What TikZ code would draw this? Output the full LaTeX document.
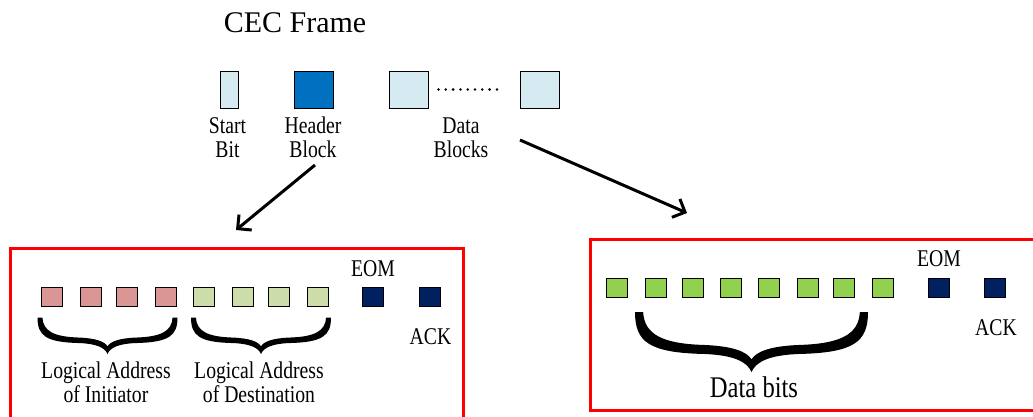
\documentclass[tikz,border=0pt]{standalone}
\usepackage{fontspec}
\setmainfont{Liberation Serif}
\newfontfamily\lblfont{Liberation Serif}[FakeStretch=0.82]
\usetikzlibrary{arrows.meta}

\definecolor{paleblue}{HTML}{D5EBF1}
\definecolor{headerblue}{HTML}{0070C0}
\definecolor{rosebit}{HTML}{D99694}
\definecolor{olivebit}{HTML}{CDDDAA}
\definecolor{databit}{HTML}{92D050}
\definecolor{navybit}{HTML}{002060}

\tikzset{
  bitbox/.style={draw=black, line width=0.8pt, inner sep=0pt, outer sep=0pt,
    minimum width=21pt, minimum height=19pt, anchor=north west},
  blockbox/.style={bitbox, minimum width=39pt, minimum height=37pt},
  lbl/.style={font=\lblfont\fontsize{24}{26}\selectfont, inner sep=0pt, anchor=base},
  framebox/.style={draw=red, line width=3pt},
  link/.style={line width=3pt, -{Straight Barb[length=10pt,width=20pt]}},
  curlybrace/.pic={
    \fill (0,0) .. controls (0,0.5) and (0.06,0.68) .. (0.3,0.7)
      .. controls (0.42,0.72) and (0.48,0.82) .. (0.5,1)
      .. controls (0.52,0.82) and (0.58,0.72) .. (0.7,0.7)
      .. controls (0.94,0.68) and (1,0.5) .. (1,0)
      -- (0.965,0) .. controls (0.96,0.38) and (0.88,0.53) .. (0.7,0.55)
      .. controls (0.58,0.57) and (0.52,0.66) .. (0.5,0.79)
      .. controls (0.48,0.66) and (0.42,0.57) .. (0.3,0.55)
      .. controls (0.12,0.53) and (0.04,0.38) .. (0.035,0) -- cycle;
  }
}

\begin{document}
\begin{tikzpicture}[x=1pt,y=-1pt]
\clip (0,0) rectangle (1033,416);

% title
\node[font=\fontsize{30}{30}\selectfont, inner sep=0pt, anchor=base] (title) at (295,32) {CEC Frame};

% frame layout: start bit, header block, data blocks
\node[bitbox, fill=paleblue, minimum width=18pt, minimum height=37pt] (start) at (220,71) {};
\node[blockbox, fill=headerblue] (header) at (294,71) {};
\node[blockbox, fill=paleblue] (data1) at (389,71) {};
\node[blockbox, fill=paleblue] (data2) at (520,71) {};
\foreach \i in {0,...,8} \fill (438.5+\i*7.3,89.5) circle (1.4);

\node[lbl] (startA) at (227.5,133) {Start};
\node[lbl] (startB) at (227.5,157) {Bit};
\node[lbl] (headerA) at (313,133) {Header};
\node[lbl] (headerB) at (313,157) {Block};
\node[lbl] (dataA) at (461,133) {Data};
\node[lbl] (dataB) at (461,157) {Blocks};

% arrows to the two detail panels
\coordinate (hbFrom) at (315,165);
\coordinate (hbTo) at (236,230);
\coordinate (dbFrom) at (520,140);
\coordinate (dbTo) at (687,213);
\draw[link] (hbFrom) -- (hbTo);
\draw[link] (dbFrom) -- (dbTo);

% header block panel
\draw[framebox] (10.5,248.7) rectangle (463,430);
\foreach \x [count=\k] in {41,80,116,155}
  \node[bitbox, fill=rosebit] (ini\k) at (\x,287) {};
\foreach \x [count=\k] in {193,232,268,307}
  \node[bitbox, fill=olivebit] (dst\k) at (\x,287) {};
\node[bitbox, fill=navybit] (heom) at (362,287) {};
\node[bitbox, fill=navybit] (hack) at (419,287) {};
\pic[shift={(37.5,317.5)}, xscale=140, yscale=36.5] {curlybrace};
\pic[shift={(191,317.5)}, xscale=140, yscale=36.5] {curlybrace};
\node[lbl] (iniA) at (106,378) {Logical Address};
\node[lbl] (iniB) at (106,402) {of Initiator};
\node[lbl] (dstA) at (259,378) {Logical Address};
\node[lbl] (dstB) at (259,402) {of Destination};
\node[lbl] (heomL) at (373,276) {EOM};
\node[lbl] (hackL) at (430.5,344) {ACK};

% data block panel
\draw[framebox] (590.7,239.7) rectangle (1045,410);
\foreach \x [count=\k] in {606,645,682,720,758,797,833,872}
  \node[bitbox, fill=databit] (bit\k) at (\x,278) {};
\node[bitbox, fill=navybit] (deom) at (928,278) {};
\node[bitbox, fill=navybit] (dack) at (984,278) {};
\pic[shift={(635,312)}, xscale=233, yscale=60] {curlybrace};
\node[lbl, font=\lblfont\fontsize{30}{32}\selectfont] (bitsL) at (754,397) {Data bits};
\node[lbl] (deomL) at (939,266) {EOM};
\node[lbl] (dackL) at (996,335) {ACK};
\end{tikzpicture}
\end{document}
